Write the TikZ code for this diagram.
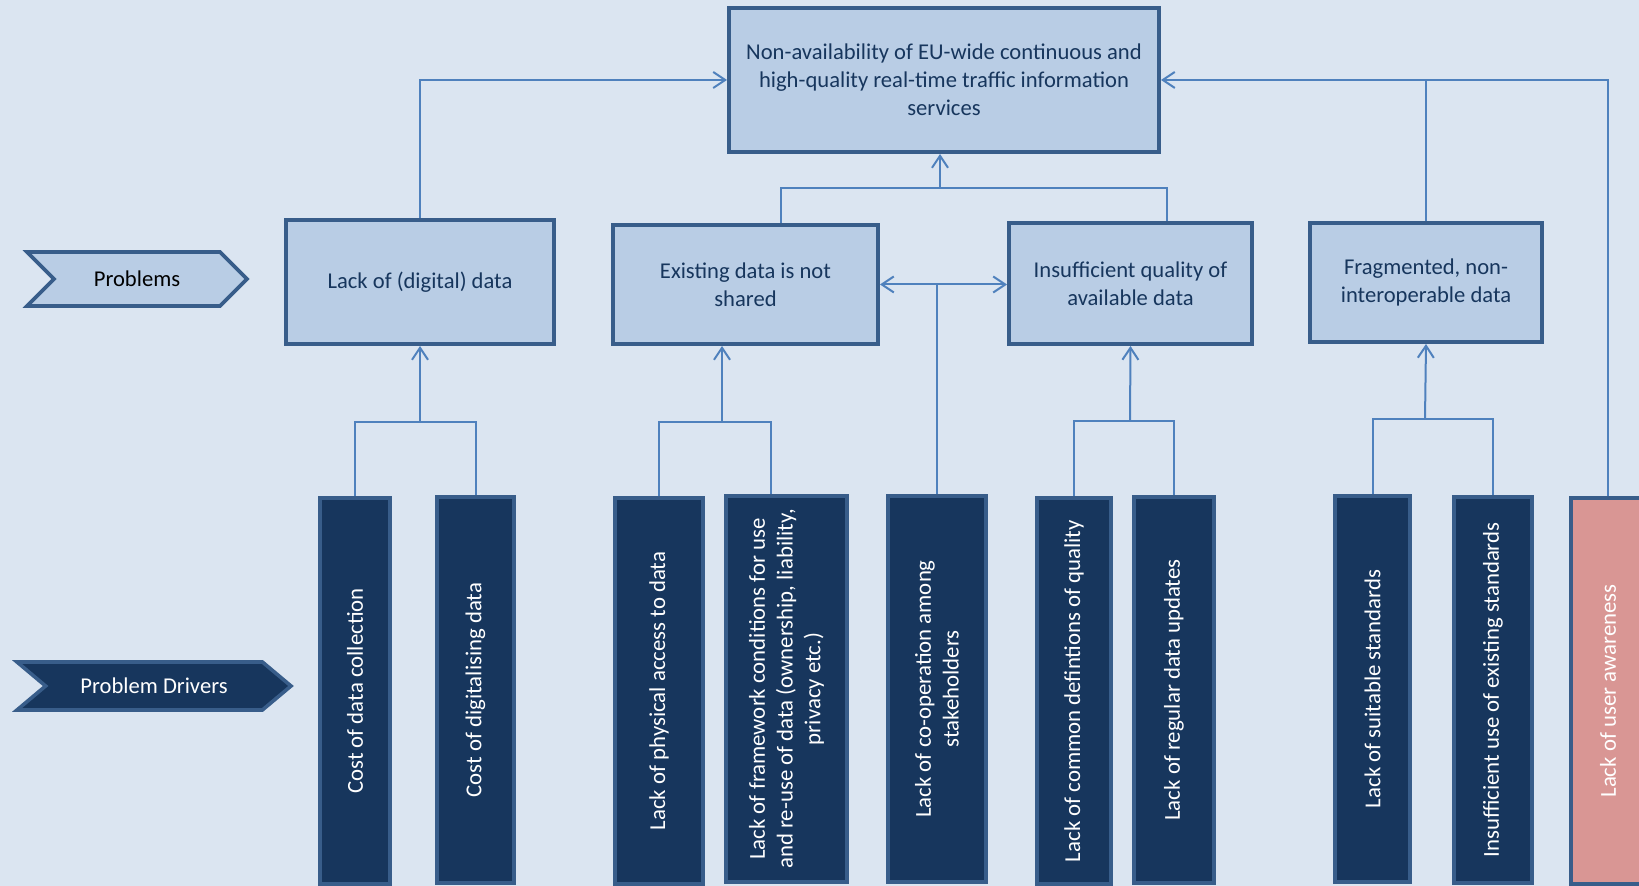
\documentclass[tikz,border=0pt]{standalone}
\usepackage{fontspec}
\setmainfont{Carlito}
\usepackage{xcolor}
\usetikzlibrary{shapes.symbols, arrows.meta, positioning, calc}
\definecolor{bgblue}{HTML}{DBE5F1}
\definecolor{boxfill}{HTML}{B9CDE5}
\definecolor{boxline}{HTML}{385D8A}
\definecolor{navy}{HTML}{17365D}
\definecolor{linkblue}{HTML}{4F81BD}
\definecolor{rose}{HTML}{D99694}
\tikzset{
  problem/.style={rectangle, draw=boxline, line width=2pt, fill=boxfill, text=navy, align=center, font=\fontsize{11.3}{13.9}\selectfont},
  driver/.style={rectangle, draw=boxline, line width=1.6pt, fill=navy, text=white, align=center, rotate=90, minimum width=193pt, font=\fontsize{11.4}{13.9}\selectfont},
  tag/.style={signal, signal from=west, signal to=east, signal pointer angle=90, draw=boxline, line width=1.8pt, font=\fontsize{11.3}{13.9}\selectfont},
  line/.style={draw=linkblue, line width=1pt},
  link/.style={line, -{Straight Barb[length=6pt,width=8pt]}},
  biglink/.style={line, {Straight Barb[length=6pt,width=8pt]}-{Straight Barb[length=6pt,width=8pt]}}
}
\begin{document}
\begin{tikzpicture}[x=0.5pt, y=-0.5pt]
\clip (0,0) rectangle (1639,886);
\fill[bgblue] (0,0) rectangle (1639,886);

% Row labels
\node[tag, fill=boxfill, minimum width=110pt, minimum height=27pt] (problems) at (137,279) {Problems};
\node[tag, fill=navy, text=white, minimum width=137pt, minimum height=24pt, signal pointer angle=80] (drivers) at (154,686) {Problem Drivers};

% Problems
\node[problem, minimum width=215pt, minimum height=72pt] (goal) at (944,80) {Non-availability of EU-wide continuous and\\high-quality real-time traffic information\\services};
\node[problem, minimum width=134pt, minimum height=62pt] (lack) at (420,282) {Lack of (digital) data};
\node[problem, minimum width=132.5pt, minimum height=59.5pt] (exist) at (745.5,284.5) {Existing data is not\\shared};
\node[problem, minimum width=121.5pt, minimum height=60.5pt] (insuf) at (1130.5,283.5) {Insufficient quality of\\available data};
\node[problem, minimum width=116pt, minimum height=59.5pt] (frag) at (1426,282.5) {Fragmented, non-\\interoperable data};

% Problem drivers
\node[driver, minimum height=35pt] (b1) at (355,691) {Cost of data collection};
\node[driver, minimum height=38.5pt] (b2) at (475.5,690) {Cost of digitalising data};
\node[driver, minimum height=44pt] (b3) at (659,691) {Lack of physical access to data};
\node[driver, minimum height=60.5pt] (b4) at (786.5,689) {Lack of framework conditions for use\\and re-use of data (ownership, liability,\\privacy etc.)};
\node[driver, minimum height=49pt] (b5) at (937,689) {Lack of co-operation among\\stakeholders};
\node[driver, minimum height=37pt] (b6) at (1074,691) {Lack of common defintions of quality};
\node[driver, minimum height=40pt] (b7) at (1174,690) {Lack of regular data updates};
\node[driver, minimum height=37.5pt] (b8) at (1372.5,689) {Lack of suitable standards};
\node[driver, minimum height=39pt] (b9) at (1493,690) {Insufficient use of existing standards};
\node[driver, minimum height=37pt, fill=rose] (b10) at (1608,691) {Lack of user awareness};

% Junctions
\coordinate (jtop) at (940,188);
\coordinate (jlack) at (420,422);
\coordinate (jexist) at (722,422);
\coordinate (jinsuf) at (1130,421);
\coordinate (jfrag) at (1425,419);

% Problems to the main problem
\draw[link] (lack.north) |- (goal.west);
\draw[link] (b10.east) |- (goal.east);
\draw[line] (frag.north) -- (frag.north |- goal.east);
\draw[line] ([xshift=17.5pt]exist.north) |- (jtop) -| ([xshift=18pt]insuf.north);
\draw[link] (jtop) -- (jtop |- goal.south);

% Co-operation
\draw[biglink] (exist.east) -- (exist.east -| insuf.west);
\draw[line] (b5.east) -- (b5.east |- exist.east);

% Drivers to problems
\draw[line] (b1.east) |- (jlack) -| (b2.east);
\draw[link] (jlack) -- (lack.south);
\draw[line] (b3.east) |- (jexist) -| ([xshift=-7.75pt]b4.east);
\draw[link] (jexist) -- (jexist |- exist.south);
\draw[line] (b6.east) |- (jinsuf) -| (b7.east);
\draw[link] (jinsuf) -- (insuf.south);
\draw[line] (b8.east) |- (jfrag) -| (b9.east);
\draw[link] (jfrag) -- (frag.south);
\end{tikzpicture}
\end{document}
